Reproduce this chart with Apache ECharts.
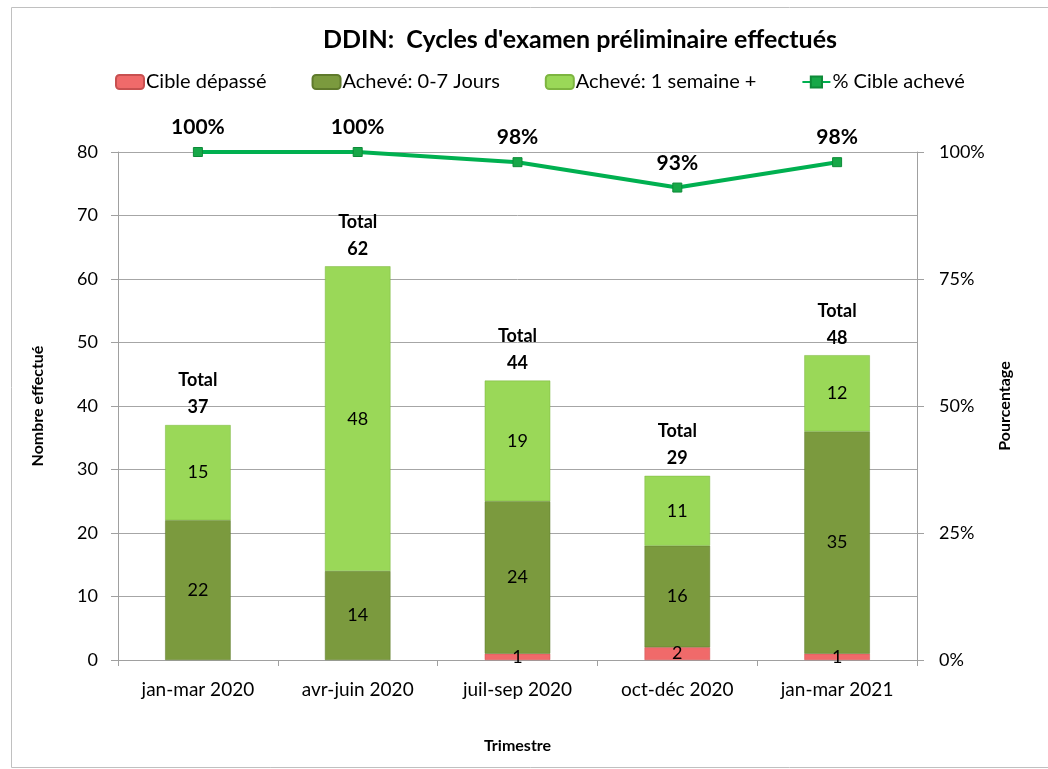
<!DOCTYPE html>
<html>
<head>
<meta charset="utf-8">
<script src="https://cdn.jsdelivr.net/npm/echarts@6/dist/echarts.min.js"></script>
<style>
  html, body { margin: 0; padding: 0; background: #fff; }
  #myChart { width: 1048px; height: 769px; }
</style>
</head>
<body>
<div id="myChart"></div>
<script>
// données
var trimestres = ["jan-mar 2020", "avr-juin 2020", "juil-sep 2020", "oct-déc 2020", "jan-mar 2021"];
var cibleDepasse = [0, 0, 1, 2, 1];
var acheve07 = [22, 14, 24, 16, 35];
var acheveSemaine = [15, 48, 19, 11, 12];
var totaux = [37, 62, 44, 29, 48];
var pctCible = [100, 100, 98, 93, 98];

var font = "Lato, 'Open Sans', sans-serif";

// pas de barre pour les valeurs nulles
function sansZero(arr) {
    return arr.map(function (v) { return v === 0 ? "-" : v; });
}

var chart = echarts.init(document.getElementById("myChart"));
chart.setOption({
    textStyle: { fontFamily: font },
    graphic: [{
        type: "rect",
        shape: { x: 11.5, y: 7.5, width: 1050, height: 760 },
        style: { fill: "none", stroke: "#c0c0c0", lineWidth: 1 },
        silent: true
    }],
    title: {
        text: "DDIN:  Cycles d'examen préliminaire effectués",
        left: 318,
        top: 22,
        textStyle: { fontFamily: font, fontSize: 25, fontWeight: "bold", color: "#000" }
    },
    legend: {
        top: 67,
        left: 110,
        itemGap: 45,
        itemWidth: 28,
        itemHeight: 14,
        data: ["Cible dépassé", "Achevé: 0-7 Jours", "Achevé: 1 semaine +", "% Cible achevé"],
        textStyle: { fontFamily: font, fontSize: 20, color: "#000", padding: [0, 0, 0, -3] }
    },
    grid: { left: 118, right: 131, top: 152, bottom: 109 },
    xAxis: {
        type: "category",
        data: trimestres,
        name: "Trimestre",
        nameLocation: "middle",
        nameGap: 78,
        nameTextStyle: { fontFamily: font, fontSize: 16, fontWeight: "bold", color: "#000" },
        axisLine: { lineStyle: { color: "#a0a0a0" } },
        axisTick: { show: true, length: 6, lineStyle: { color: "#a0a0a0" } },
        axisLabel: { fontFamily: font, fontSize: 19, color: "#000", margin: 20 }
    },
    yAxis: [
        {
            type: "value",
            min: 0,
            max: 80,
            interval: 10,
            name: "Nombre effectué",
            nameLocation: "middle",
            nameGap: 72,
            nameRotate: 90,
            nameTextStyle: { fontFamily: font, fontSize: 16, fontWeight: "bold", color: "#000" },
            axisLine: { show: true, lineStyle: { color: "#a0a0a0" } },
            axisTick: { show: true, length: 7, lineStyle: { color: "#a0a0a0" } },
            axisLabel: { fontFamily: font, fontSize: 18, color: "#000", margin: 20 },
            splitLine: { lineStyle: { color: "#a6a6a6" } }
        },
        {
            type: "value",
            min: 0,
            max: 100,
            interval: 25,
            name: "Pourcentage",
            nameLocation: "middle",
            nameGap: 80,
            nameRotate: 90,
            nameTextStyle: { fontFamily: font, fontSize: 16, fontWeight: "bold", color: "#000" },
            axisLine: { show: true, lineStyle: { color: "#a0a0a0" } },
            axisTick: { show: true, length: 7, lineStyle: { color: "#a0a0a0" } },
            axisLabel: { fontFamily: font, fontSize: 18, color: "#000", margin: 22, formatter: "{value}%" },
            splitLine: { show: false }
        }
    ],
    series: [
        {
            name: "Cible dépassé",
            type: "bar",
            stack: "total",
            barWidth: "41%",
            data: sansZero(cibleDepasse),
            itemStyle: { color: "#f06a6a", borderColor: "#c85050", borderWidth: 0.5 },
            label: { show: true, position: "inside", fontFamily: font, fontSize: 18, color: "#000" }
        },
        {
            name: "Achevé: 0-7 Jours",
            type: "bar",
            stack: "total",
            data: acheve07,
            itemStyle: { color: "#7b9a3e", borderColor: "#5f7a2c", borderWidth: 0.5 },
            label: { show: true, position: "inside", fontFamily: font, fontSize: 18, color: "#000" }
        },
        {
            name: "Achevé: 1 semaine +",
            type: "bar",
            stack: "total",
            data: acheveSemaine,
            itemStyle: { color: "#9ad858", borderColor: "#7db540", borderWidth: 0.5 },
            label: { show: true, position: "inside", fontFamily: font, fontSize: 18, color: "#000" }
        },
        {
            name: "Total",
            type: "scatter",
            data: totaux,
            symbolSize: 0,
            silent: true,
            itemStyle: { opacity: 1 },
            label: {
                show: true,
                position: "top",
                distance: 4,
                fontFamily: font,
                fontSize: 18,
                fontWeight: "bold",
                color: "#000",
                opacity: 1,
                lineHeight: 27,
                formatter: function (p) { return "Total\n" + p.value; }
            }
        },
        {
            name: "% Cible achevé",
            type: "line",
            yAxisIndex: 1,
            data: pctCible,
            symbol: "rect",
            symbolSize: 9,
            lineStyle: { color: "#00b050", width: 4 },
            itemStyle: { color: "#17a848", borderColor: "#0e8a38", borderWidth: 1 },
            label: {
                show: true,
                position: "top",
                distance: 9,
                fontFamily: font,
                fontSize: 21,
                fontWeight: "bold",
                color: "#000",
                formatter: "{c}%"
            }
        }
    ]
});
</script>
</body>
</html>
